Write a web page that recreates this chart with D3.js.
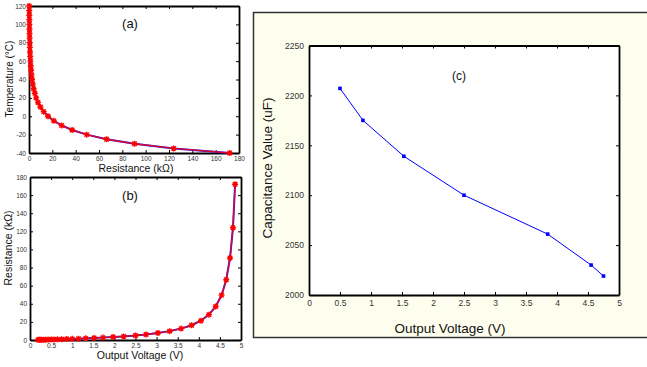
<!DOCTYPE html>
<html lang='en'>
	<head>
		<meta charset='utf-8'>
		<title>Thermistor and capacitance</title>
		<script src="https://d3js.org/d3.v7.min.js"></script>
		<style>
			body { margin: 0; background: #fff; }
			svg { display: block; font-family: 'Liberation Sans', Arial, sans-serif; }
			.tick text { fill: #333; }
		</style>
	</head>
	<body>
		<div id='holder'></div>
		<script>
			// thermistor table: temperature (C) -> resistance (kOhm) -> output voltage (V)
			var temps = [-40, -35, -30, -25, -20, -15, -10, -5, 0, 5, 10, 15, 20, 25, 30, 35, 40,
				45, 50, 55, 60, 65, 70, 75, 80, 85, 90, 95, 100, 105, 110, 115, 120];
			var resist = [172, 124, 90.5, 66.5, 49.5, 37, 28, 21.3, 16.3, 12.6, 9.8, 7.7, 6.1, 5.0, 4.0, 3.25, 2.65,
				2.18, 1.8, 1.5, 1.25, 1.05, 0.88, 0.75, 0.64, 0.55, 0.47, 0.4, 0.35, 0.3, 0.26, 0.23, 0.2];
			var volts = [4.86, 4.81, 4.74, 4.65, 4.54, 4.40, 4.24, 4.05, 3.83, 3.58, 3.31, 3.03, 2.75, 2.5, 2.22, 1.97, 1.73,
				1.52, 1.32, 1.15, 1.0, 0.87, 0.75, 0.65, 0.57, 0.50, 0.43, 0.37, 0.33, 0.28, 0.25, 0.22, 0.19];

			// capacitance vs output voltage
			var capVolts = [0.5, 0.87, 1.53, 2.5, 3.85, 4.55, 4.75];
			var capValues = [2207, 2175, 2139, 2100, 2061, 2030, 2019];

			var ticksA_x = [0, 20, 40, 60, 80, 100, 120, 140, 160, 180];
			var ticksA_y = [-40, -20, 0, 20, 40, 60, 80, 100, 120];
			var ticksV = [0, 0.5, 1, 1.5, 2, 2.5, 3, 3.5, 4, 4.5, 5];
			var ticksB_y = [0, 20, 40, 60, 80, 100, 120, 140, 160, 180];
			var ticksC_y = [2000, 2050, 2100, 2150, 2200, 2250];

			var svg = d3.select('#holder').append('svg')
				.attr('width', 647)
				.attr('height', 367);

			// panel (c) background frame
			svg.append('rect')
				.attr('x', 253.5).attr('y', 12.5)
				.attr('width', 400).attr('height', 325)
				.attr('fill', '#fefeee')
				.attr('stroke', '#333')
				.attr('stroke-width', 1.5);

			// draws a matlab style box with inward ticks
			function drawAxes(x, y, xt, yt, fs, pad) {
				var g = svg.append('g');
				var r = x.range(), b = y.range();
				g.append('rect')
					.attr('x', r[0]).attr('y', b[1])
					.attr('width', r[1] - r[0]).attr('height', b[0] - b[1])
					.attr('fill', '#fff');

				var fmt = function(d) { return String(d); };
				var bottom = g.append('g').attr('transform', 'translate(0,' + b[0] + ')')
					.call(d3.axisBottom(x).tickValues(xt).tickFormat(fmt).tickSizeInner(-3).tickSizeOuter(0).tickPadding(pad));
				var left = g.append('g').attr('transform', 'translate(' + r[0] + ',0)')
					.call(d3.axisLeft(y).tickValues(yt).tickFormat(fmt).tickSizeInner(-3).tickSizeOuter(0).tickPadding(pad));
				var top = g.append('g').attr('transform', 'translate(0,' + b[1] + ')')
					.call(d3.axisTop(x).tickValues(xt).tickFormat('').tickSizeInner(-3).tickSizeOuter(0));
				var right = g.append('g').attr('transform', 'translate(' + r[1] + ',0)')
					.call(d3.axisRight(y).tickValues(yt).tickFormat('').tickSizeInner(-3).tickSizeOuter(0));
				[bottom, left, top, right].forEach(function(a) {
					a.select('.domain').attr('stroke', '#000').attr('stroke-width', 1.8);
					a.selectAll('.tick line').attr('stroke', '#000');
					a.selectAll('text').style('font-size', fs + 'px');
				});
				return g;
			}

			function label(txt, x, y, size, rot) {
				var t = svg.append('text')
					.attr('text-anchor', 'middle')
					.style('font-size', size + 'px')
					.attr('fill', '#111')
					.text(txt);
				if (rot) {
					t.attr('transform', 'translate(' + x + ',' + y + ') rotate(-90)');
				} else {
					t.attr('x', x).attr('y', y);
				}
			}

			var star = 'M-3,0H3M0,-3V3M-2.2,-2.2L2.2,2.2M-2.2,2.2L2.2,-2.2';

			function drawCurve(xs, ys, xScale, yScale) {
				var pts = xs.map(function(d, i) { return [xScale(d), yScale(ys[i])]; });
				var line = d3.line();
				svg.append('path').attr('d', line(pts))
					.attr('fill', 'none').attr('stroke', '#2020ff').attr('stroke-width', 2);
				svg.append('path').attr('d', line(pts))
					.attr('fill', 'none').attr('stroke', '#ff0000').attr('stroke-opacity', 0.85).attr('stroke-width', 1.4);
				svg.append('g').selectAll('path')
					.data(pts)
					.enter()
					.append('path')
					.attr('d', star)
					.attr('transform', function(d) { return 'translate(' + d[0] + ',' + d[1] + ')'; })
					.attr('stroke', '#ff0000')
					.attr('stroke-width', 1.4)
					.attr('fill', 'none');
			}

			// (a) temperature vs resistance
			var xA = d3.scaleLinear().domain([0, 180]).range([29, 239]);
			var yA = d3.scaleLinear().domain([-40, 120]).range([153, 6]);
			drawAxes(xA, yA, ticksA_x, ticksA_y, 6.5, 3);
			drawCurve(resist, temps, xA, yA);
			label('(a)', 130, 28, 13);
			label('Temperature (\u00B0C)', 13, 79, 10, true);
			label('Resistance (k\u03A9)', 136, 172, 10.5);

			// (b) resistance vs output voltage
			var xB = d3.scaleLinear().domain([0, 5]).range([30, 241]);
			var yB = d3.scaleLinear().domain([0, 180]).range([340, 177]);
			drawAxes(xB, yB, ticksV, ticksB_y, 6.5, 3);
			drawCurve(volts, resist, xB, yB);
			label('(b)', 130, 200, 13);
			label('Resistance (k\u03A9)', 12, 248, 10.5, true);
			label('Output Voltage (V)', 140, 359, 10.5);

			// (c) capacitance vs output voltage
			var xC = d3.scaleLinear().domain([0, 5]).range([309, 619]);
			var yC = d3.scaleLinear().domain([2000, 2250]).range([295, 45.5]);
			drawAxes(xC, yC, ticksV, ticksC_y, 8.5, 5);
			var capPts = capVolts.map(function(d, i) { return [xC(d), yC(capValues[i])]; });
			svg.append('path').attr('d', d3.line()(capPts))
				.attr('fill', 'none').attr('stroke', '#0000ff').attr('stroke-width', 1);
			svg.append('g').selectAll('rect')
				.data(capPts)
				.enter()
				.append('rect')
				.attr('x', function(d) { return d[0] - 1.8; })
				.attr('y', function(d) { return d[1] - 1.8; })
				.attr('width', 3.6).attr('height', 3.6)
				.attr('fill', '#0000ff');
			label('(c)', 459, 80, 12);
			label('Capacitance Value (uF)', 272, 168, 13.5, true);
			label('Output Voltage (V)', 450, 333, 13.5);
		</script>
	</body>
</html>
